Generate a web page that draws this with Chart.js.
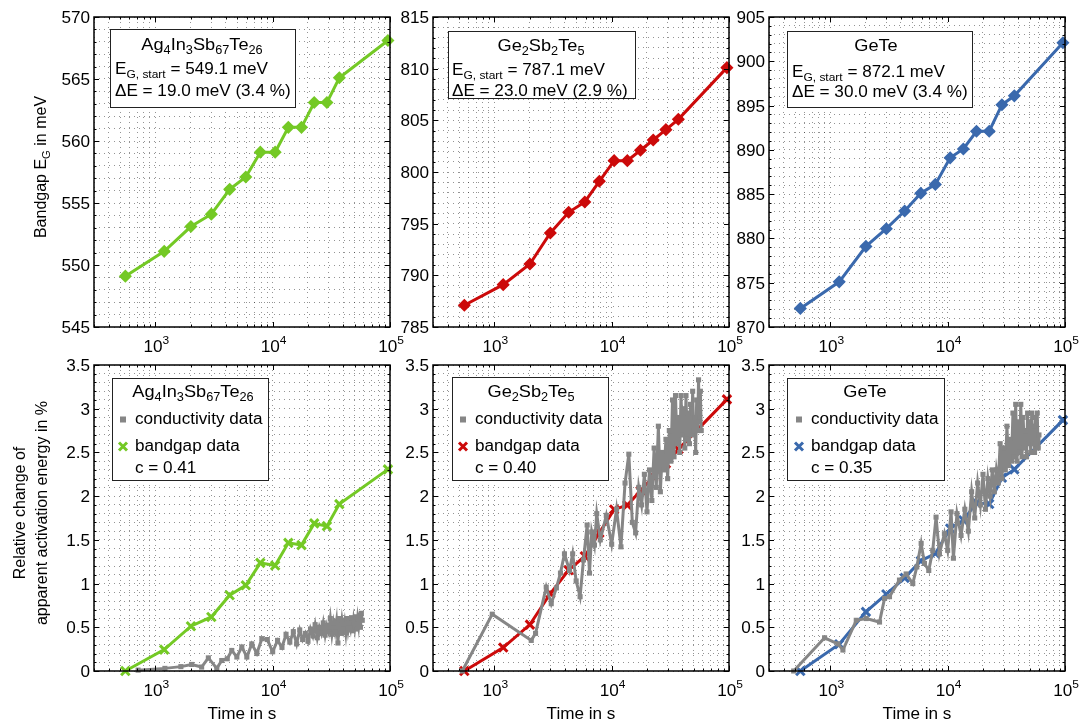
<!DOCTYPE html>
<html>
<head>
<meta charset="utf-8">
<script src="https://cdn.jsdelivr.net/npm/chart.js@4.4.1/dist/chart.umd.min.js"></script>
<style>
  body { margin: 0; background: #fff; width: 1079px; height: 723px; position: relative; overflow: hidden; }
  canvas { position: absolute; left: 0; top: 0; }
</style>
</head>
<body>
<canvas id="p0" width="1079" height="723"></canvas>
<canvas id="p1" width="1079" height="723"></canvas>
<canvas id="p2" width="1079" height="723"></canvas>
<canvas id="p3" width="1079" height="723"></canvas>
<canvas id="p4" width="1079" height="723"></canvas>
<canvas id="p5" width="1079" height="723"></canvas>
<script>
// ---- data ----
const bandgapTime = [555, 1190, 2010, 3000, 4300, 5900, 7850, 10500, 13600, 17600, 22600, 29000, 37000, 96000];

const bandgapAIST = [549.1, 551.1, 553.1, 554.1, 556.1, 557.1, 559.1, 559.1, 561.1, 561.1, 563.1, 563.1, 565.1, 568.1];
const bandgapGST  = [787.1, 789.1, 791.1, 794.1, 796.1, 797.1, 799.1, 801.1, 801.1, 802.1, 803.1, 804.1, 805.1, 810.1];
const bandgapGeTe = [872.1, 875.1, 879.1, 881.1, 883.1, 885.1, 886.1, 889.1, 890.1, 892.1, 892.1, 895.1, 896.1, 902.1];

const relBandgapAIST = [0, 0.245, 0.512, 0.618, 0.867, 0.98, 1.237, 1.207, 1.466, 1.44, 1.688, 1.657, 1.909, 2.306];
const relBandgapGST  = [0, 0.268, 0.531, 0.886, 1.153, 1.313, 1.58, 1.848, 1.897, 2.061, 2.221, 2.374, 2.535, 3.107];
const relBandgapGeTe = [0, 0.306, 0.676, 0.878, 1.065, 1.26, 1.344, 1.63, 1.725, 1.923, 1.91, 2.21, 2.306, 2.87];

const condTimeAIST = [713, 1206, 1650, 2040, 2480, 2830, 3340, 3680, 4100, 4480, 4950, 5460, 6020, 6640, 7330, 8090,
  9000, 10000, 11000, 12000, 13000, 14000, 15000, 16000, 17000, 18000, 19000, 20000, 21000, 22000, 23000, 24000,
  25000, 26000, 27000, 28000, 29000, 30000, 31000, 32000, 33000, 34000, 35000, 36000, 37000, 38000, 39000, 40000,
  41000, 42000, 43000, 44000, 45000, 46000, 47000, 48000, 49000, 50000, 51000, 52000, 53000, 54000, 55000, 56000, 57000, 58000];
const condAIST = [0.01, 0.03, 0.05, 0.075, 0.045, 0.15, 0.03, 0.12, 0.14, 0.235, 0.16, 0.275, 0.16, 0.31, 0.2, 0.37,
  0.36, 0.22, 0.35, 0.27, 0.42, 0.33, 0.45, 0.31, 0.47, 0.36, 0.43, 0.34, 0.48, 0.4, 0.53, 0.38,
  0.5, 0.43, 0.55, 0.41, 0.52, 0.45, 0.6, 0.42, 0.55, 0.45, 0.57, 0.32, 0.6, 0.43, 0.58, 0.48,
  0.56, 0.44, 0.6, 0.47, 0.55, 0.49, 0.61, 0.46, 0.58, 0.5, 0.62, 0.48, 0.6, 0.52, 0.64, 0.5, 0.66, 0.58];

const condTimeGST = [533, 960, 2063, 2245, 2768, 3054, 3380, 3660, 3960, 4370, 4650, 4980, 5380, 5750, 6180, 6470, 6760, 7130, 7460,
  8000, 9000, 10000, 11000, 12000, 13000, 14000, 15000, 16000, 17000, 18000, 19000, 20000, 21000, 22000, 23000,
  24000, 25000, 26000, 27000, 28000, 29000, 30000, 31000, 32000, 33000, 34000, 35000, 36000, 37000, 38000, 39000,
  40000, 41000, 42000, 43000, 44000, 45000, 46000, 47000, 48000, 49000, 50000, 51000, 52000, 53000, 54000, 55000, 56000, 57000, 58000];
const condGST = [0, 0.65, 0.35, 0.43, 0.96, 0.77, 0.95, 1.12, 1.34, 1.15, 1.34, 1.03, 0.85, 1.27, 1.67, 1.12, 1.59, 1.44, 1.8,
  1.5, 1.78, 1.45, 1.85, 1.42, 2.15, 2.48, 1.7, 1.58, 2.1, 1.9, 2.25, 1.82, 2.3, 1.95, 2.55,
  2.1, 2.8, 2.05, 2.5, 2.3, 2.65, 2.2, 2.75, 2.4, 3.1, 2.45, 3.15, 2.6, 2.9, 2.5, 3.15,
  2.7, 3.0, 2.55, 3.15, 2.65, 2.95, 2.6, 3.05, 2.7, 3.2, 2.75, 2.9, 2.5, 3.1, 2.75, 3.33, 2.85, 3.2, 2.75];

const condTimeGeTe = [487, 893, 1160, 1280, 1663, 2023, 2625, 2897, 3192, 3883, 4426, 5043, 5455, 5943, 6340, 6900, 7460, 7960, 8510, 9380, 10000, 10690, 11190,
  12000, 13000, 14000, 15000, 16000, 17000, 18000, 19000, 20000, 21000, 22000, 23000, 24000, 25000, 26000, 27000,
  28000, 29000, 30000, 31000, 32000, 33000, 34000, 35000, 36000, 37000, 38000, 39000, 40000, 41000, 42000, 43000,
  44000, 45000, 46000, 47000, 48000, 49000, 50000, 51000, 52000, 53000, 54000, 55000, 56000, 57000, 58000, 59000, 60000];
const condGeTe = [0, 0.38, 0.31, 0.24, 0.58, 0.6, 0.56, 0.83, 0.85, 1.04, 1.11, 1.0, 1.19, 1.46, 1.23, 1.15, 1.38, 1.76, 1.34, 1.57, 1.38, 1.82, 1.29,
  1.8, 1.55, 1.85, 1.6, 2.05, 1.75, 2.15, 1.9, 2.25, 1.85, 2.2, 2.0, 2.3, 2.05, 2.3, 2.15,
  2.6, 2.2, 2.55, 2.3, 2.8, 2.35, 2.65, 2.4, 2.95, 2.45, 3.05, 2.4, 2.85, 2.5, 3.05, 2.45,
  2.9, 2.55, 2.75, 2.45, 2.95, 2.6, 2.85, 2.5, 2.95, 2.6, 2.8, 2.5, 2.9, 2.6, 2.95, 2.55, 2.7];

const materialNames = [
  [['Ag', 0], ['4', 1], ['In', 0], ['3', 1], ['Sb', 0], ['67', 1], ['Te', 0], ['26', 1]],
  [['Ge', 0], ['2', 1], ['Sb', 0], ['2', 1], ['Te', 0], ['5', 1]],
  [['GeTe', 0]]
];
const startEnergy = ['549.1', '787.1', '872.1'];
const deltaEnergy = ['19.0', '23.0', '30.0'];
const deltaPercent = ['3.4', '2.9', '3.4'];
const fitC = ['0.41', '0.40', '0.35'];

const topYRange = [[545, 570], [785, 815], [870, 905]];
const bottomYRange = [0, 3.5];
const xRange = [300, 1e5];
const xLabelTicks = [1e3, 1e4, 1e5];

// ---- look ----
const colors = ['#74c925', '#cc0a0a', '#3a69ad'];
const gray = '#868686';
const gridColor = 'rgba(0,0,0,0.42)';
const FONT = '"Liberation Sans", Arial, Helvetica, sans-serif';
const SX = 1.07;

const colLeft = [94, 433, 769];
const plotW = 296;
const rowTop = [17, 365];
const rowH = [310, 306];

const topBox = [
  { x: 110, y: 29, w: 185, h: 78, tx: 202, ty: 50, lx: 115, l1: 74, l2: 96 },
  { x: 448, y: 31, w: 187, h: 67, tx: 541, ty: 51, lx: 452, l1: 75, l2: 96 },
  { x: 787, y: 31, w: 185, h: 76, tx: 876, ty: 51, lx: 792, l1: 76.5, l2: 97 }
];
const botBox = [
  { x: 112, y: 378, w: 156, h: 102, tx: 193, mx: 123, lx: 135 },
  { x: 452, y: 377, w: 156, h: 103, tx: 531, mx: 463, lx: 475 },
  { x: 787, y: 378, w: 157, h: 102, tx: 865, mx: 799, lx: 811 }
];

// x grid values: 300..900, 1000..9000, 10000..90000, 100000
const xGrid = [];
[100, 1000, 10000].forEach(d => { for (let m = 1; m <= 9; m++) if (m * d >= xRange[0]) xGrid.push(m * d); });
xGrid.push(xRange[1]);

function richWidth(ctx, segs, size) {
  let w = 0;
  segs.forEach(([t, m]) => { ctx.font = (m ? size * 0.7 : size) + 'px ' + FONT; w += ctx.measureText(t).width; });
  return w;
}

function drawRich(ctx, segs, x, y, size, align, sx, rot) {
  ctx.save();
  ctx.translate(x, y);
  if (rot) ctx.rotate(rot);
  ctx.scale(sx, 1);
  const w = richWidth(ctx, segs, size);
  let cx = align === 'center' ? -w / 2 : align === 'right' ? -w : 0;
  ctx.fillStyle = '#000';
  ctx.textAlign = 'left';
  ctx.textBaseline = 'alphabetic';
  segs.forEach(([t, m]) => {
    const s = m ? size * 0.7 : size;
    ctx.font = s + 'px ' + FONT;
    const dy = m === 1 ? size * 0.25 : m === 2 ? -size * 0.53 : 0;
    ctx.fillText(t, cx, dy);
    cx += ctx.measureText(t).width;
  });
  ctx.restore();
}

function isLabel(v, step) {
  const r = v / step;
  return Math.abs(r - Math.round(r)) < 1e-6;
}

function axesPlugin(col, row, yStep, yLabelStep) {
  return {
    id: 'matlabAxes',
    afterDraw(chart) {
      const ctx = chart.ctx, a = chart.chartArea;
      const xs = chart.scales.x, ys = chart.scales.y;
      ctx.save();
      // inward tick marks on all four sides
      ctx.strokeStyle = '#000';
      ctx.lineWidth = 1;
      ctx.beginPath();
      xs.ticks.forEach(t => {
        const px = Math.round(xs.getPixelForValue(t.value)) + 0.5;
        const len = xLabelTicks.includes(t.value) ? 5 : 2.5;
        ctx.moveTo(px, a.bottom); ctx.lineTo(px, a.bottom - len);
        ctx.moveTo(px, a.top); ctx.lineTo(px, a.top + len);
      });
      ys.ticks.forEach(t => {
        const py = Math.round(ys.getPixelForValue(t.value)) + 0.5;
        const len = isLabel(t.value, yLabelStep) ? 5 : 2.5;
        ctx.moveTo(a.left, py); ctx.lineTo(a.left + len, py);
        ctx.moveTo(a.right, py); ctx.lineTo(a.right - len, py);
      });
      ctx.stroke();
      ctx.lineWidth = 1.5;
      ctx.strokeRect(a.left, a.top, a.right - a.left, a.bottom - a.top);

      // tick labels
      xLabelTicks.forEach(v => {
        const px = xs.getPixelForValue(v);
        drawRich(ctx, [['10', 0], [String(Math.round(Math.log10(v))), 2]], px + 1, a.bottom + 25, 16, 'center', SX);
      });
      ys.ticks.forEach(t => {
        if (!isLabel(t.value, yLabelStep)) return;
        const py = ys.getPixelForValue(t.value);
        drawRich(ctx, [[String(t.value), 0]], a.left - 4, py + 6, 16, 'right', SX);
      });

      // axis titles
      if (row === 1) drawRich(ctx, [['Time in s', 0]], (a.left + a.right) / 2, 719, 16, 'center', SX);
      if (col === 0 && row === 0) {
        drawRich(ctx, [['Bandgap E', 0], ['G', 1], [' in meV', 0]], 46, 167, 16, 'center', 1, -Math.PI / 2);
      }
      if (col === 0 && row === 1) {
        drawRich(ctx, [['Relative change of', 0]], 24.5, 513, 16, 'center', 1, -Math.PI / 2);
        drawRich(ctx, [['apparent activation energy in %', 0]], 46.5, 513, 16, 'center', 1, -Math.PI / 2);
      }

      // legend / annotation box
      const b = row === 0 ? topBox[col] : botBox[col];
      ctx.fillStyle = '#fff';
      ctx.fillRect(b.x, b.y, b.w, b.h);
      ctx.strokeStyle = '#222';
      ctx.lineWidth = 1;
      ctx.strokeRect(b.x + 0.5, b.y + 0.5, b.w, b.h);
      if (row === 0) {
        drawRich(ctx, materialNames[col], b.tx, b.ty, 17, 'center', SX);
        drawRich(ctx, [['E', 0], ['G, start', 1], [' = ' + startEnergy[col] + ' meV', 0]], b.lx, b.l1, 16, 'left', SX);
        drawRich(ctx, [['\u0394E = ' + deltaEnergy[col] + ' meV (' + deltaPercent[col] + ' %)', 0]], b.lx, b.l2, 16, 'left', SX);
      } else {
        drawRich(ctx, materialNames[col], b.tx, 397, 17, 'center', SX);
        ctx.fillStyle = gray;
        ctx.fillRect(b.mx - 3, 416.5, 6, 6);
        drawRich(ctx, [['conductivity data', 0]], b.lx, 423.5, 16, 'left', SX);
        ctx.strokeStyle = colors[col];
        ctx.lineWidth = 3;
        ctx.beginPath();
        ctx.moveTo(b.mx - 4, 442.5); ctx.lineTo(b.mx + 4, 450.5);
        ctx.moveTo(b.mx + 4, 442.5); ctx.lineTo(b.mx - 4, 450.5);
        ctx.stroke();
        drawRich(ctx, [['bandgap data', 0]], b.lx, 450.5, 16, 'left', SX);
        drawRich(ctx, [['c = ' + fitC[col], 0]], b.lx, 472.5, 16, 'left', SX);
      }
      ctx.restore();
    }
  };
}

function points(xs, ys) {
  return xs.map((x, i) => ({ x: x, y: ys[i] }));
}

function makePanel(id, col, row, datasets, yMin, yMax, yStep, yLabelStep) {
  const L = colLeft[col], T = rowTop[row];
  const gridOpts = { color: gridColor, lineWidth: 1, drawTicks: false };
  return new Chart(document.getElementById(id), {
    type: 'line',
    data: { datasets: datasets },
    options: {
      responsive: false,
      animation: false,
      devicePixelRatio: 1,
      events: [],
      layout: { padding: { left: L, top: T, right: 1079 - L - plotW, bottom: 723 - T - rowH[row] } },
      plugins: { legend: { display: false }, tooltip: { enabled: false } },
      scales: {
        x: {
          type: 'logarithmic', min: xRange[0], max: xRange[1],
          afterFit: s => { s.height = 0; },
          afterBuildTicks: s => { s.ticks = xGrid.map(v => ({ value: v })); },
          ticks: { display: false },
          grid: gridOpts,
          border: { display: false, dash: [1, 4] }
        },
        y: {
          type: 'linear', min: yMin, max: yMax,
          afterFit: s => { s.width = 0; },
          afterBuildTicks: s => {
            const n = Math.round((yMax - yMin) / yStep);
            const t = [];
            for (let i = 0; i <= n; i++) t.push({ value: +(yMin + i * yStep).toFixed(4) });
            s.ticks = t;
          },
          ticks: { display: false },
          grid: gridOpts,
          border: { display: false, dash: [1, 4] }
        }
      }
    },
    plugins: [axesPlugin(col, row, yStep, yLabelStep)]
  });
}

function bandgapSet(values, col) {
  return {
    data: points(bandgapTime, values), clip: false,
    borderColor: colors[col], backgroundColor: colors[col], borderWidth: 3,
    pointStyle: 'rectRot', pointRadius: 5.5, pointBorderWidth: 1.5,
    pointBackgroundColor: colors[col], pointBorderColor: colors[col]
  };
}

function relativeSet(values, col) {
  return {
    data: points(bandgapTime, values), clip: false,
    borderColor: colors[col], borderWidth: 3,
    pointStyle: 'crossRot', pointRadius: 6, pointBorderWidth: 3,
    pointBorderColor: colors[col]
  };
}

function conductivitySet(times, values) {
  return {
    data: points(times, values), clip: false,
    borderColor: gray, borderWidth: 3,
    pointStyle: 'rect', pointRadius: 3.6, pointBorderWidth: 0,
    pointBackgroundColor: gray
  };
}

makePanel('p0', 0, 0, [bandgapSet(bandgapAIST, 0)], topYRange[0][0], topYRange[0][1], 1, 5);
makePanel('p1', 1, 0, [bandgapSet(bandgapGST, 1)], topYRange[1][0], topYRange[1][1], 1, 5);
makePanel('p2', 2, 0, [bandgapSet(bandgapGeTe, 2)], topYRange[2][0], topYRange[2][1], 1, 5);
makePanel('p3', 0, 1, [conductivitySet(condTimeAIST, condAIST), relativeSet(relBandgapAIST, 0)], bottomYRange[0], bottomYRange[1], 0.1, 0.5);
makePanel('p4', 1, 1, [conductivitySet(condTimeGST, condGST), relativeSet(relBandgapGST, 1)], bottomYRange[0], bottomYRange[1], 0.1, 0.5);
makePanel('p5', 2, 1, [conductivitySet(condTimeGeTe, condGeTe), relativeSet(relBandgapGeTe, 2)], bottomYRange[0], bottomYRange[1], 0.1, 0.5);
</script>
</body>
</html>
